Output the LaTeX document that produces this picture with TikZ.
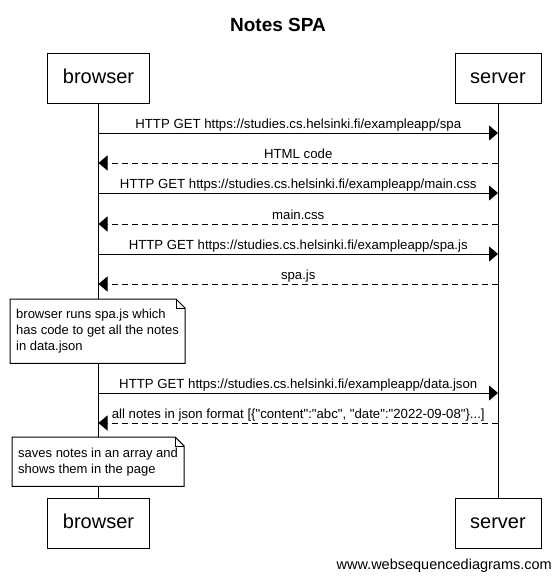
\documentclass[tikz,border=0pt]{standalone}
\usepackage{fontspec}
\setmainfont{Liberation Sans}[Ligatures=TeXOff]
\usetikzlibrary{arrows.meta,backgrounds}
\tikzset{
  x=1pt, y=-1pt,
  actor/.style={draw, line width=1pt, fill=white, minimum height=50pt, inner sep=0pt,
    text height=14.5pt, text depth=4pt, font=\fontsize{20}{24}\selectfont},
  msgline/.style={line width=1pt, -{Triangle[length=9pt,width=15pt]}},
  reply/.style={msgline, dash pattern=on 6pt off 4pt},
  msglabel/.style={anchor=base, inner sep=0pt, yshift=5pt, font=\fontsize{13.2}{16}\selectfont},
  notetext/.style={anchor=north west, align=left, inner xsep=6pt, inner ysep=0pt,
    font=\fontsize{13}{16}\selectfont},
  notebox/.style={draw, line width=1pt, fill=white},
  lifeline/.style={line width=1pt},
}
\begin{document}
\begin{tikzpicture}
\useasboundingbox (0,0) rectangle (556,582);
\node[font=\fontsize{19}{23}\selectfont\bfseries, anchor=base] (title) at (278,31) {Notes SPA};

\node[actor, minimum width=102pt] (b1) at (98.5,78) {browser};
\node[actor, minimum width=86pt] (s1) at (498,78) {server};
\node[actor, minimum width=102pt] (b2) at (98.5,523) {browser};
\node[actor, minimum width=86pt] (s2) at (498,523) {server};

\draw[msgline] (b1 |- 0,133) -- (s1 |- 0,133)
  node[msglabel, pos=0.5] (m1) {HTTP GET https://studies.cs.helsinki.fi/exampleapp/spa};
\draw[reply] (s1 |- 0,163) -- (b1 |- 0,163)
  node[msglabel, pos=0.5] (m2) {HTML code};
\draw[msgline] (b1 |- 0,193) -- (s1 |- 0,193)
  node[msglabel, pos=0.5] (m3) {HTTP GET https://studies.cs.helsinki.fi/exampleapp/main.css};
\draw[reply] (s1 |- 0,224) -- (b1 |- 0,224)
  node[msglabel, pos=0.5] (m4) {main.css};
\draw[msgline] (b1 |- 0,254) -- (s1 |- 0,254)
  node[msglabel, pos=0.5] (m5) {HTTP GET https://studies.cs.helsinki.fi/exampleapp/spa.js};
\draw[reply] (s1 |- 0,284) -- (b1 |- 0,284)
  node[msglabel, pos=0.5] (m6) {spa.js};

\node[notetext, minimum height=64pt] (n1) at (10,299)
  {browser runs spa.js which\\has code to get all the notes\\in data.json};

\draw[msgline] (b1 |- 0,393) -- (s1 |- 0,393)
  node[msglabel, pos=0.5] (m7) {HTTP GET https://studies.cs.helsinki.fi/exampleapp/data.json};
\draw[reply] (s1 |- 0,423) -- (b1 |- 0,423)
  node[msglabel, pos=0.5] (m8) {all notes in json format [\{"content":"abc", "date":"2022-09-08"\}...]};

\node[notetext, minimum height=49pt] (n2) at (12,437)
  {saves notes in an array and\\shows them in the page};

\node[anchor=base east, inner sep=0pt, font=\fontsize{14.5}{17}\selectfont] (footer) at (552,569) {www.websequencediagrams.com};

\begin{scope}[on background layer]
  \draw[lifeline] (b1.south) -- (b2.north);
  \draw[lifeline] (s1.south) -- (s2.north);
  \foreach \n in {n1,n2}{
    \filldraw[notebox] (\n.north west) -- ([xshift=-9pt]\n.north east) -- ([yshift=-9pt]\n.north east)
      -- (\n.south east) -- (\n.south west) -- cycle;
    \draw[line width=0.8pt] ([xshift=-9pt]\n.north east) -- ([xshift=-9pt,yshift=-9pt]\n.north east)
      -- ([yshift=-9pt]\n.north east);
  }
\end{scope}
\end{tikzpicture}
\end{document}
